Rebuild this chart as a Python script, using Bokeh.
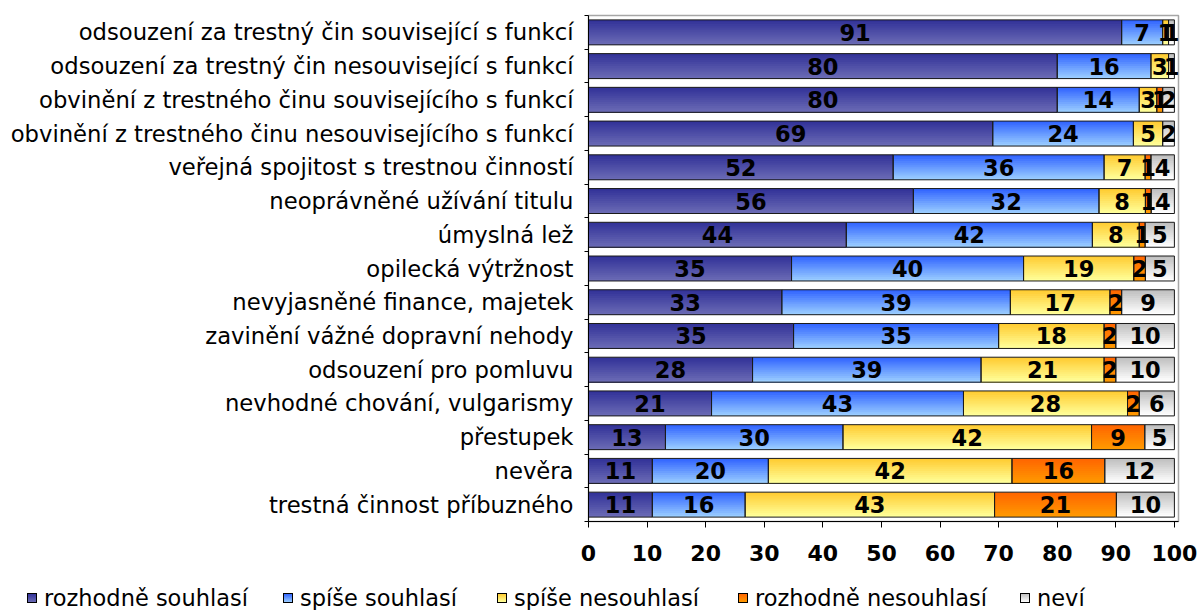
from bokeh.plotting import figure
from bokeh.layouts import column
from bokeh.models import Range1d, FixedTicker, ColumnDataSource, Div
from bokeh.embed import file_html
from bokeh.resources import INLINE
from bokeh.core.properties import value

categories = [
    "odsouzení za trestný čin související s funkcí",
    "odsouzení za trestný čin nesouvisející s funkcí",
    "obvinění z trestného činu souvisejícího s funkcí",
    "obvinění z trestného činu nesouvisejícího s funkcí",
    "veřejná spojitost s trestnou činností",
    "neoprávněné užívání titulu",
    "úmyslná lež",
    "opilecká výtržnost",
    "nevyjasněné finance, majetek",
    "zavinění vážné dopravní nehody",
    "odsouzení pro pomluvu",
    "nevhodné chování, vulgarismy",
    "přestupek",
    "nevěra",
    "trestná činnost příbuzného",
]
series_names = ["rozhodně souhlasí", "spíše souhlasí", "spíše nesouhlasí",
                "rozhodně nesouhlasí", "neví"]
rozhodne_souhlasi = [91, 80, 80, 69, 52, 56, 44, 35, 33, 35, 28, 21, 13, 11, 11]
spise_souhlasi = [7, 16, 14, 24, 36, 32, 42, 40, 39, 35, 39, 43, 30, 20, 16]
spise_nesouhlasi = [1, 3, 3, 5, 7, 8, 8, 19, 17, 18, 21, 28, 42, 42, 43]
rozhodne_nesouhlasi = [0, 0, 1, 0, 1, 1, 1, 2, 2, 2, 2, 2, 9, 16, 21]
nevi = [1, 1, 2, 2, 4, 4, 5, 5, 9, 10, 10, 6, 5, 12, 10]
x_ticks = [0, 10, 20, 30, 40, 50, 60, 70, 80, 90, 100]

series = [rozhodne_souhlasi, spise_souhlasi, spise_nesouhlasi, rozhodne_nesouhlasi, nevi]
# gradient (top colour, bottom colour) per series
grad = [("#333399", "#6a6ab4"), ("#3366ff", "#99ccff"), ("#ffcc33", "#ffff99"),
        ("#ff6600", "#ff9900"), ("#c0c0c0", "#ffffff")]

FONT = "DejaVu Sans"
N_SLICES = 12
BAR_H = 0.74


def hex2rgb(h):
    h = h.lstrip("#")
    return tuple(int(h[i:i + 2], 16) for i in (0, 2, 4))


def mix(c1, c2, t):
    a, b = hex2rgb(c1), hex2rgb(c2)
    return "#%02x%02x%02x" % tuple(round(a[i] + (b[i] - a[i]) * t) for i in range(3))


p = figure(width=1200, height=570, x_range=Range1d(0, 100.7), y_range=Range1d(15, 0),
           output_backend="svg", toolbar_location=None,
           min_border_left=588, min_border_right=22, min_border_top=15, min_border_bottom=49)
p.xgrid.visible = False
p.ygrid.visible = False
p.outline_line_color = "#a6a6a6"
p.outline_line_width = 1.5

n = len(categories)
totals = [sum(s[i] for s in series) for i in range(n)]

fill = dict(left=[], right=[], top=[], bottom=[], color=[])
outl = dict(left=[], right=[], top=[], bottom=[])
lab = dict(x=[], y=[], t=[])
for i in range(n):
    yc = i + 0.5
    cum = 0.0
    for si, s in enumerate(series):
        v = s[i]
        if v <= 0:
            continue
        l = cum / totals[i] * 100
        r = (cum + v) / totals[i] * 100
        cum += v
        y0 = yc - BAR_H / 2
        y1 = yc + BAR_H / 2
        # overlapping slices: each one runs from its start down to the bar bottom
        for k in range(N_SLICES):
            fill["left"].append(l)
            fill["right"].append(r)
            fill["top"].append(y0 + k * BAR_H / N_SLICES)
            fill["bottom"].append(y1)
            fill["color"].append(mix(grad[si][0], grad[si][1], k / (N_SLICES - 1)))
        outl["left"].append(l)
        outl["right"].append(r)
        outl["top"].append(y0)
        outl["bottom"].append(y1)
        lab["x"].append((l + r) / 2)
        lab["y"].append(yc)
        lab["t"].append(str(v))

p.quad(left="left", right="right", top="top", bottom="bottom", fill_color="color",
       line_color=None, source=ColumnDataSource(fill))
p.quad(left="left", right="right", top="top", bottom="bottom", fill_color=None,
       line_color="#1a1a1a", line_width=1, source=ColumnDataSource(outl))
p.text(x="x", y="y", text="t", source=ColumnDataSource(lab), text_font=value(FONT),
       text_font_style="bold", text_font_size="22.5px", text_align="center",
       text_baseline="middle", text_color="black")

# x axis
xa = p.xaxis[0]
xa.ticker = FixedTicker(ticks=x_ticks)
xa.major_label_text_font = FONT
xa.major_label_text_font_style = "bold"
xa.major_label_text_font_size = "22px"
xa.major_label_text_color = "black"
xa.axis_line_color = "black"
xa.major_tick_line_color = "black"
xa.major_tick_out = 6
xa.major_tick_in = 0
xa.minor_tick_line_color = None
xa.major_label_standoff = 17

# y axis
ya = p.yaxis[0]
ya.ticker = FixedTicker(ticks=[i + 0.5 for i in range(n)], minor_ticks=list(range(n + 1)))
ya.major_label_overrides = {i + 0.5: categories[i] for i in range(n)}
ya.major_label_text_font = FONT
ya.major_label_text_font_size = "22.7px"
ya.major_label_text_color = "black"
ya.axis_line_color = "black"
ya.major_tick_line_color = None
ya.major_tick_out = 0
ya.major_tick_in = 0
ya.minor_tick_line_color = "black"
ya.minor_tick_out = 4
ya.minor_tick_in = 0
ya.major_label_standoff = 11

# legend strip (HTML) below the chart
legend_left = [27, 283, 497, 738, 1020]
parts = []
for name, (c0, c1), lx in zip(series_names, grad, legend_left):
    parts.append(
        f'<div style="position:absolute;left:{lx}px;top:16px;height:24px;display:flex;'
        f'align-items:center;white-space:nowrap;line-height:24px;">'
        f'<span style="display:inline-block;width:10px;height:10px;border:1px solid #000;'
        f'background:linear-gradient({c0},{c1});margin-right:7px;"></span>{name}</div>'
    )
html = (f'<div style="position:relative;width:1200px;height:40px;font-family:\'{FONT}\';'
        f'font-size:22.5px;color:#000;">' + "".join(parts) + '</div>')
leg = Div(text=html, width=1200, height=40, margin=(0, 0, 0, 0))

page = column(p, leg, spacing=0)
open("out.html", "w").write(file_html(page, INLINE))
